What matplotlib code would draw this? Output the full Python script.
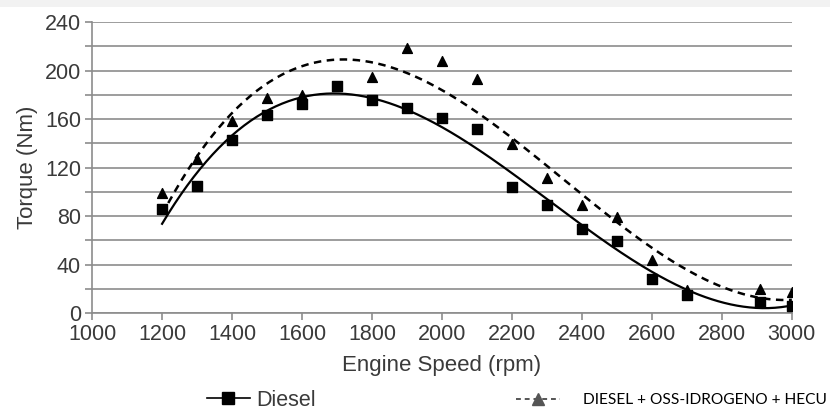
import numpy as np
import matplotlib
matplotlib.use("Agg")
import matplotlib.pyplot as plt
from matplotlib.lines import Line2D
from matplotlib.patches import Rectangle

# dati
rpm_diesel = [1200, 1300, 1400, 1500, 1600, 1700, 1800, 1900, 2000, 2100,
              2200, 2300, 2400, 2500, 2600, 2700, 2910, 3000]
torque_diesel = [86, 105, 143, 163, 172, 187, 176, 169, 161, 152,
                 104, 89, 69, 59, 28, 15, 9, 6]

rpm_hho = [1200, 1300, 1400, 1500, 1600, 1800, 1900, 2000, 2100,
           2200, 2300, 2400, 2500, 2600, 2700, 2910, 3000]
torque_hho = [99, 127, 158, 177, 180, 195, 219, 208, 193,
              139, 111, 89, 79, 44, 19, 20, 17]

label_diesel = "Diesel"
label_hho = "DIESEL + OSS-IDROGENO + HECU"

plt.rcParams['font.family'] = ['Liberation Sans', 'DejaVu Sans']
grey_txt = '#3a3a3a'
fs = 15.5

fig = plt.figure(figsize=(8.3, 4.16), dpi=100)
fig.patches.append(Rectangle((0, 1 - 7 / 416), 1, 7 / 416, transform=fig.transFigure,
                             facecolor='#f2f2f2', edgecolor='none', zorder=0))
ax = fig.add_axes([0.111, 0.2476, 0.843, 0.6994])

# linee di tendenza polinomiali (3° ordine), come in Excel
xs = np.linspace(1200, 3000, 300)
fit_d = np.polyfit(rpm_diesel, torque_diesel, 3)
fit_h = np.polyfit(rpm_hho, torque_hho, 3)
ax.plot(xs, np.polyval(fit_d, xs), color='black', lw=1.6, zorder=3)
ax.plot(xs, np.polyval(fit_h, xs), color='black', lw=1.8, ls=(0, (3, 2.2)), zorder=3)

ax.scatter(rpm_diesel, torque_diesel, marker='s', s=60, color='black', zorder=4)
ax.scatter(rpm_hho, torque_hho, marker='^', s=50, color='black', zorder=4)

ax.set_xlim(1000, 3000)
ax.set_ylim(0, 240)
ax.set_xticks(np.arange(1000, 3001, 200))
ax.set_yticks(np.arange(0, 241, 40))
ax.set_yticks(np.arange(20, 241, 40), minor=True)
ax.grid(True, axis='y', which='both', color='#8c8c8c', lw=1.2)
ax.set_axisbelow(True)
for s in ['top', 'right']:
    ax.spines[s].set_visible(False)
for s in ['left', 'bottom']:
    ax.spines[s].set_color('#8c8c8c')
    ax.spines[s].set_linewidth(1.2)
ax.tick_params(axis='both', which='both', colors='#8c8c8c', labelcolor=grey_txt,
               labelsize=fs, length=5, width=1.2)
ax.tick_params(axis='x', pad=3)
ax.tick_params(axis='y', pad=3)

ax.set_xlabel("Engine Speed (rpm)", fontsize=16, color=grey_txt, labelpad=7)
ax.set_ylabel("Torque (Nm)", fontsize=16, color=grey_txt, labelpad=5)

h1 = Line2D([], [], color='black', lw=1.2, marker='s', markersize=8)
h2 = Line2D([], [], color='#555555', lw=1.4, ls=(0, (2.5, 2)), marker='^', markersize=9)
leg1 = fig.legend([h1], [label_diesel], loc='center left', bbox_to_anchor=(0.226, 0.038),
                  frameon=False, fontsize=fs, handlelength=2.0, handletextpad=0.3,
                  labelcolor=grey_txt)
leg2 = fig.legend([h2], [label_hho], loc='center left', bbox_to_anchor=(0.605, 0.038),
                  frameon=False, prop={'family': 'Lato', 'size': 11.2},
                  handlelength=2.8, handletextpad=1.5)

fig.savefig("out.png", dpi=100)
